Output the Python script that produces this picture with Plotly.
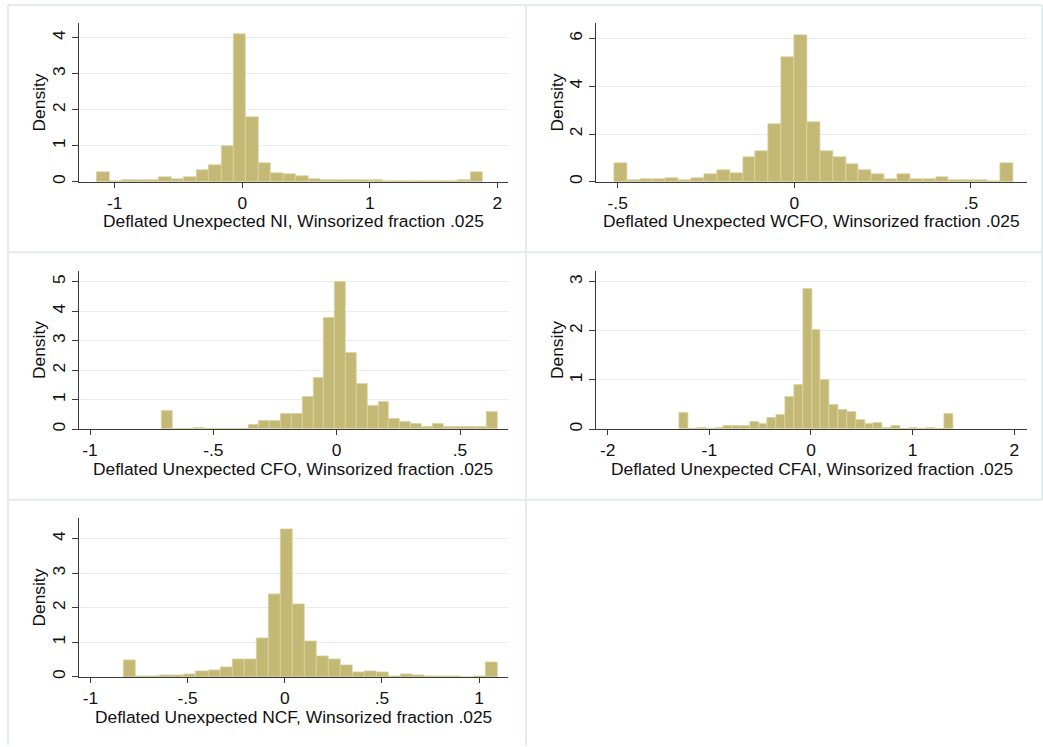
import plotly.graph_objects as go

W, H = 1043, 747

# ---------------- data (densities) ----------------
ni_start, ni_width = -1.141, 0.0976
ni_density = [0.28, 0.02, 0.04, 0.05, 0.03, 0.12, 0.06, 0.12, 0.32, 0.45, 1.00,
              4.10, 1.80, 0.52, 0.25, 0.20, 0.15, 0.08, 0.03, 0.05, 0.05, 0.05,
              0.03, 0.02, 0.02, 0.02, 0.02, 0.01, 0.01, 0.03, 0.27]

wcfo_start, wcfo_width = -0.5095, 0.0364
wcfo_density = [0.78, 0.08, 0.12, 0.12, 0.15, 0.08, 0.15, 0.30, 0.50, 0.35, 1.03,
                1.27, 2.42, 5.22, 6.15, 2.48, 1.27, 1.03, 0.75, 0.47, 0.32, 0.10,
                0.30, 0.10, 0.12, 0.18, 0.08, 0.07, 0.05, 0.03, 0.78]

cfo_start, cfo_width = -0.7095, 0.04392
cfo_density = [0.63, 0.02, 0.02, 0.05, 0.02, 0.01, 0.02, 0.02, 0.14, 0.29, 0.29,
               0.50, 0.50, 1.09, 1.73, 3.78, 4.99, 2.59, 1.52, 0.79, 0.92, 0.36,
               0.26, 0.19, 0.09, 0.16, 0.07, 0.06, 0.06, 0.06, 0.58]

cfai_start, cfai_width = -1.293, 0.0868
cfai_density = [0.32, 0.01, 0.02, 0.01, 0.03, 0.06, 0.06, 0.06, 0.15, 0.10, 0.22,
                0.28, 0.66, 0.90, 2.85, 2.01, 1.01, 0.50, 0.38, 0.34, 0.19, 0.11,
                0.12, 0.03, 0.06, 0.01, 0.03, 0.01, 0.02, 0.00, 0.30]

ncf_start, ncf_width = -0.828, 0.0620
ncf_density = [0.47, 0.02, 0.02, 0.05, 0.05, 0.08, 0.15, 0.20, 0.28, 0.50, 0.52,
               1.12, 2.38, 4.28, 2.10, 1.02, 0.60, 0.50, 0.35, 0.13, 0.15, 0.12,
               0.03, 0.08, 0.05, 0.03, 0.03, 0.03, 0.00, 0.03, 0.42]

titles = ["Deflated Unexpected NI, Winsorized fraction .025",
          "Deflated Unexpected WCFO, Winsorized fraction .025",
          "Deflated Unexpected CFO, Winsorized fraction .025",
          "Deflated Unexpected CFAI, Winsorized fraction .025",
          "Deflated Unexpected NCF, Winsorized fraction .025"]

x_tickvals = [[-1, 0, 1, 2], [-0.5, 0, 0.5], [-1, -0.5, 0, 0.5],
              [-2, -1, 0, 1, 2], [-1, -0.5, 0, 0.5, 1]]
x_ticktext = [["-1", "0", "1", "2"], ["-.5", "0", ".5"], ["-1", "-.5", "0", ".5"],
              ["-2", "-1", "0", "1", "2"], ["-1", "-.5", "0", ".5", "1"]]
y_tickvals = [[0, 1, 2, 3, 4], [0, 2, 4, 6], [0, 1, 2, 3, 4, 5],
              [0, 1, 2, 3], [0, 1, 2, 3, 4]]

series = [(ni_start, ni_width, ni_density),
          (wcfo_start, wcfo_width, wcfo_density),
          (cfo_start, cfo_width, cfo_density),
          (cfai_start, cfai_width, cfai_density),
          (ncf_start, ncf_width, ncf_density)]

# ---------------- layout geometry (pixels) ----------------
# (left, right, top, bottom) of each plot area
boxes = [(78.7, 508.0, 23.3, 182.3),
         (596.3, 1026.7, 23.3, 182.3),
         (78.7, 508.0, 271.7, 430.3),
         (596.3, 1026.7, 271.7, 430.3),
         (78.7, 508.0, 519.7, 678.7)]
x_ranges = [[-1.2825, 2.0828], [-0.5606, 0.6578], [-1.0458, 0.6945],
            [-2.112, 2.122], [-1.0607, 1.149]]
y_ranges = [[0, 4.4075], [0, 6.644], [0, 5.366], [0, 3.217], [0, 4.595]]
title_y = [222, 222, 470, 470, 719]
dens_x = [39, 557, 39, 557, 39]

FONT = "Liberation Sans, Arial, Helvetica, sans-serif"
FS = 17.4
BAR = "#C4B875"
BAR_LINE = "#DAD3A2"
GRID = "#E6EEEE"
AXIS = "#3A3A3A"
BORDER = "#E2ECEC"

fig = go.Figure()
annotations = []
for i, ((start, width, dens), (l, r, t, b)) in enumerate(zip(series, boxes)):
    n = i + 1
    xa = "x" if n == 1 else f"x{n}"
    ya = "y" if n == 1 else f"y{n}"
    centers = [start + (k + 0.5) * width for k in range(len(dens))]
    fig.add_trace(go.Bar(x=centers, y=dens, width=[width] * len(dens),
                         marker=dict(color=BAR, line=dict(color=BAR_LINE, width=0.8)),
                         xaxis=xa, yaxis=ya, showlegend=False, hoverinfo="skip"))
    xkey = "xaxis" if n == 1 else f"xaxis{n}"
    ykey = "yaxis" if n == 1 else f"yaxis{n}"
    fig.layout[xkey] = dict(domain=[l / W, r / W], range=x_ranges[i], anchor=ya,
                            tickvals=x_tickvals[i], ticktext=x_ticktext[i],
                            showgrid=False, zeroline=False, showline=True,
                            linecolor=AXIS, linewidth=1, ticks="outside", ticklen=5,
                            tickcolor=AXIS, tickwidth=1,
                            tickfont=dict(family=FONT, size=FS, color="#111"),
                            fixedrange=True)
    fig.layout[ykey] = dict(domain=[1 - b / H, 1 - t / H], range=y_ranges[i], anchor=xa,
                            tickvals=y_tickvals[i], tickangle=-90,
                            showgrid=True, gridcolor=GRID, gridwidth=1.2,
                            zeroline=False, showline=True,
                            linecolor=AXIS, linewidth=1, ticks="outside", ticklen=6,
                            tickcolor=AXIS, tickwidth=1,
                            tickfont=dict(family=FONT, size=FS, color="#111"),
                            fixedrange=True)
    annotations.append(dict(x=((l + r) / 2) / W, y=1 - title_y[i] / H,
                            xref="paper", yref="paper",
                            text=titles[i], showarrow=False, xanchor="center",
                            yanchor="middle",
                            font=dict(family=FONT, size=FS, color="#111")))
    annotations.append(dict(x=dens_x[i] / W, y=1 - ((t + b) / 2) / H,
                            xref="paper", yref="paper", text="Density",
                            textangle=-90, showarrow=False, xanchor="center",
                            yanchor="middle",
                            font=dict(family=FONT, size=FS, color="#111")))

# light panel separators (graph combine frames)
shapes = []
def hline(y, x0, x1):
    shapes.append(dict(type="line", xref="paper", yref="paper",
                       x0=x0 / W, x1=x1 / W, y0=1 - y / H, y1=1 - y / H,
                       line=dict(color=BORDER, width=2)))
def vline(x, y0, y1):
    shapes.append(dict(type="line", xref="paper", yref="paper",
                       x0=x / W, x1=x / W, y0=1 - y0 / H, y1=1 - y1 / H,
                       line=dict(color=BORDER, width=2)))
hline(5, 8, 1042)
hline(253, 8, 1042)
hline(501, 8, 1042)
vline(8, 5, 747)
vline(526, 5, 747)
vline(1042, 5, 501)

fig.update_layout(width=W, height=H, margin=dict(l=0, r=0, t=0, b=0),
                  paper_bgcolor="white", plot_bgcolor="white",
                  bargap=0, annotations=annotations, shapes=shapes,
                  font=dict(family=FONT, size=FS, color="#111"))

fig.write_html("out.html", config={"displayModeBar": False},
               post_script="document.body.style.margin='0px';document.body.style.overflow='hidden';")
